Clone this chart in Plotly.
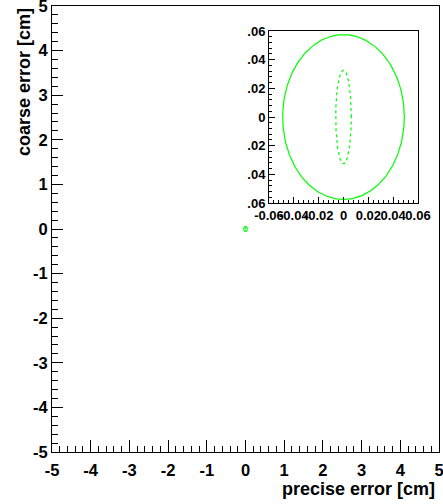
import numpy as np
import plotly.graph_objects as go

# ---- data ----
ellipse_names = ["outer (solid)", "inner (dashed)"]
ellipse_rx = [0.049, 0.0063]      # semi-axis along precise error [cm]
ellipse_ry = [0.0575, 0.0326]     # semi-axis along coarse error [cm]
ellipse_dash = ["solid", "3px,3px"]
center_x = [0.0, 0.0]
center_y = [0.0, 0.0]

main_ticks = [-5, -4, -3, -2, -1, 0, 1, 2, 3, 4, 5]
main_ticktext = ["-5", "-4", "-3", "-2", "-1", "0", "1", "2", "3", "4", "5"]
inset_ticks = [-0.06, -0.04, -0.02, 0, 0.02, 0.04, 0.06]
inset_xticktext = ["-0.06", "-0.04", "-0.02", "0", "0.02", "0.04", "0.06"]
inset_yticktext = [".06", ".04", ".02", "0", ".02", ".04", ".06"]

W, H = 443, 504
GREEN = "#00ff00"
FONT = "Liberation Sans"

t = np.linspace(0, 2 * np.pi, 361)
fig = go.Figure()
for axes in [("x", "y"), ("x2", "y2")]:
    for i in range(len(ellipse_rx)):
        fig.add_trace(go.Scatter(
            x=center_x[i] + ellipse_rx[i] * np.cos(t),
            y=center_y[i] + ellipse_ry[i] * np.sin(t),
            mode="lines", name=ellipse_names[i],
            line=dict(color=GREEN, width=1.2, dash=ellipse_dash[i]),
            xaxis=axes[0], yaxis=axes[1], showlegend=False, hoverinfo="skip"))

def px_dom_x(a, b):
    return [a / W, b / W]

def px_dom_y(top, bottom):
    return [(H - bottom) / H, (H - top) / H]

main_font = dict(family=FONT, size=16.5, color="black", weight="bold")
inset_font = dict(family=FONT, size=13, color="black", weight="bold")

common = dict(showgrid=False, zeroline=False, showline=True, linecolor="black",
              linewidth=1, mirror=True, ticks="inside", tickcolor="black",
              tickmode="array", tickangle=0, automargin=False,
              ticklabeloverflow="allow")

fig.update_layout(
    width=W, height=H, margin=dict(l=0, r=0, t=0, b=0, autoexpand=False),
    paper_bgcolor="white", plot_bgcolor="white", showlegend=False,
    xaxis=dict(domain=px_dom_x(52, 439), range=[-5, 5], tickvals=main_ticks,
               ticktext=main_ticktext, ticklen=12, tickwidth=1, tickfont=main_font,
               ticklabelstandoff=3,
               minor=dict(dtick=0.2, ticklen=6, ticks="inside", tickcolor="black"),
               anchor="y", **common),
    yaxis=dict(domain=px_dom_y(6, 452), range=[-5, 5], tickvals=main_ticks,
               ticktext=main_ticktext, ticklen=11, tickwidth=1, tickfont=main_font,
               minor=dict(dtick=0.2, ticklen=6, ticks="inside", tickcolor="black"),
               anchor="x", **common),
    xaxis2=dict(domain=px_dom_x(269, 418), range=[-0.06, 0.06], tickvals=inset_ticks,
                ticktext=inset_xticktext, ticklen=6, tickwidth=1, tickfont=inset_font,
                minor=dict(dtick=0.004, ticklen=3, ticks="inside", tickcolor="black"),
                anchor="y2", **common),
    yaxis2=dict(domain=px_dom_y(31, 203), range=[-0.06, 0.06], tickvals=inset_ticks,
                ticktext=inset_yticktext, ticklen=6, tickwidth=1, tickfont=inset_font,
                minor=dict(dtick=0.004, ticklen=3, ticks="inside", tickcolor="black"),
                anchor="x2", **common),
)

fig.add_annotation(text="precise error [cm]", xref="paper", yref="paper",
                   x=437 / W, y=(H - 489) / H, xanchor="right", yanchor="middle",
                   showarrow=False, font=dict(family=FONT, size=18, color="black", weight="bold"))
fig.add_annotation(text="coarse error [cm]", xref="paper", yref="paper",
                   x=24 / W, y=(H - 82) / H, xanchor="center", yanchor="middle",
                   textangle=-90, showarrow=False,
                   font=dict(family=FONT, size=18, color="black", weight="bold"))

fig.write_html("out.html")
